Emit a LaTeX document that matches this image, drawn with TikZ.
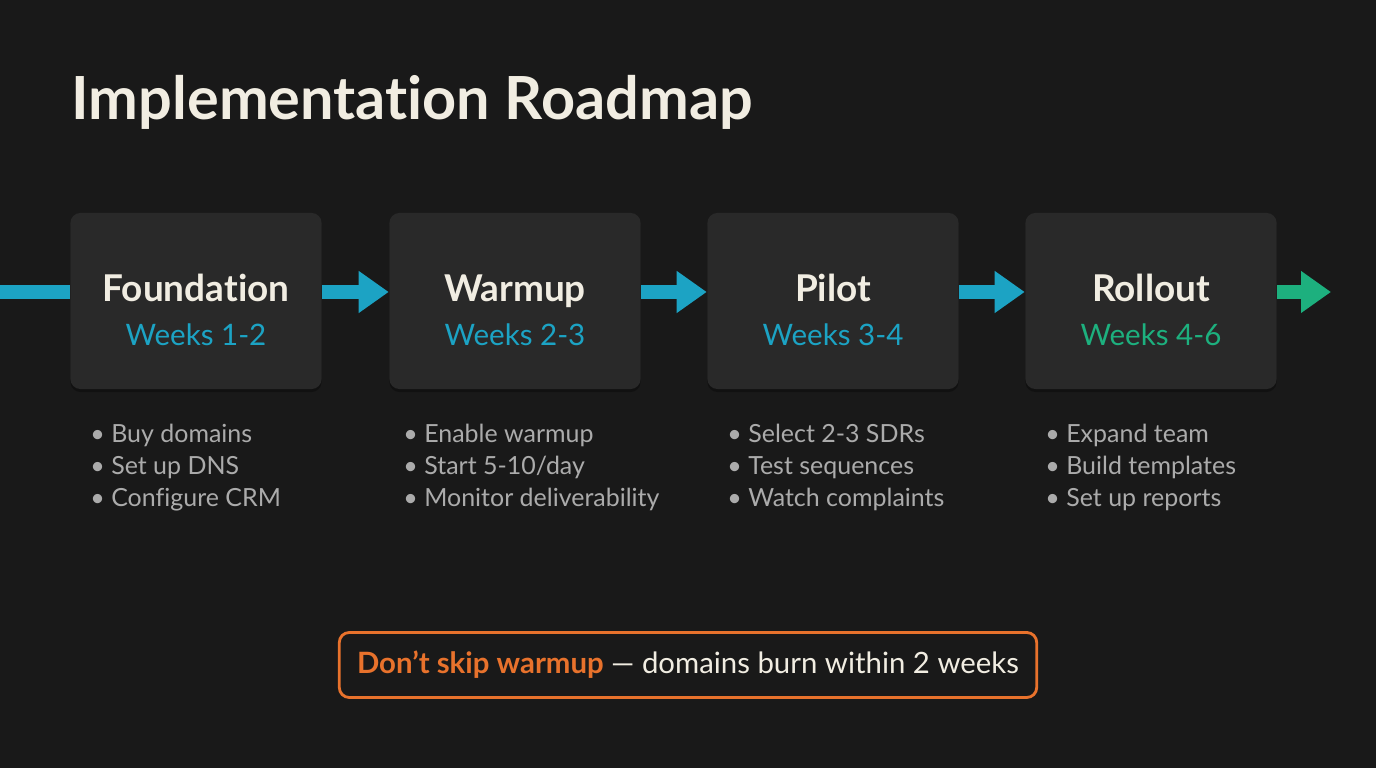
\documentclass[tikz,border=0pt]{standalone}
\usepackage{fontspec}
\setmainfont[Ligatures=NoCommon]{Lato}
\usepackage{tikz}
\usepackage{xcolor}
\usetikzlibrary{arrows.meta,positioning,shadows}

\definecolor{bgdark}{HTML}{191919}
\definecolor{boxgrey}{HTML}{292929}
\definecolor{cream}{HTML}{F1EDE2}
\definecolor{teal}{HTML}{1CA3C4}
\definecolor{mint}{HTML}{1DB07E}
\definecolor{itemgrey}{HTML}{ABABAB}
\definecolor{warnorange}{HTML}{E8722C}

\tikzset{
    stage-box/.style = {fill=boxgrey, rectangle, rounded corners=0.1cm, minimum width=2.51cm, minimum height=1.76cm,
        drop shadow={shadow xshift=0cm, shadow yshift=-0.03cm, opacity=0.3, fill=black}},
    stage-title/.style = {anchor=base, inner sep=0pt, text=cream, font=\fontsize{10.5}{12}\selectfont\bfseries},
    stage-weeks/.style = {anchor=base, inner sep=0pt, font=\fontsize{8.4}{10}\selectfont},
    stage-items/.style = {anchor=base west, inner sep=0pt, align=left, text=itemgrey, font=\fontsize{7.1}{9.1}\selectfont},
    flow-arrow/.style = {draw=teal, line width=0.14cm, -{Triangle[length=0.3cm,width=0.4cm]}},
}

\begin{document}
\begin{tikzpicture}[x=0.01cm, y=-0.01cm]
\fill[bgdark] (0,0) rectangle (1376,768);
\useasboundingbox (0,0) rectangle (1376,768);

\node[anchor=base west, inner sep=0pt, text=cream, font=\fontsize{16.9}{19}\selectfont\bfseries] (title) at (71,120) {Implementation Roadmap};

% stage boxes
\node[stage-box] (found) at (196,301) {};
\node[stage-box] (warm) at (515,301) {};
\node[stage-box] (pilot) at (833,301) {};
\node[stage-box] (roll) at (1151,301) {};

\node[stage-title] (foundT) at ([yshift=-0.01cm]found.center) {Foundation};
\node[stage-weeks, text=teal] (foundW) at ([yshift=-0.44cm]found.center) {Weeks 1-2};
\node[stage-title] (warmT) at ([yshift=-0.01cm]warm.center) {Warmup};
\node[stage-weeks, text=teal] (warmW) at ([yshift=-0.44cm]warm.center) {Weeks 2-3};
\node[stage-title] (pilotT) at ([yshift=-0.01cm]pilot.center) {Pilot};
\node[stage-weeks, text=teal] (pilotW) at ([yshift=-0.44cm]pilot.center) {Weeks 3-4};
\node[stage-title] (rollT) at ([yshift=-0.01cm]roll.center) {Rollout};
\node[stage-weeks, text=mint] (rollW) at ([yshift=-0.44cm]roll.center) {Weeks 4-6};

% arrows
\coordinate (start) at (0,292);
\coordinate (finish) at (1331,292);
\draw[teal, line width=0.14cm] (start) -- (start -| found.west);
\draw[flow-arrow] (found.east |- start) -- (warm.west |- start);
\draw[flow-arrow] (warm.east |- start) -- (pilot.west |- start);
\draw[flow-arrow] (pilot.east |- start) -- (roll.west |- start);
\draw[flow-arrow, draw=mint] (roll.east |- start) -- (finish);

% task lists (base is the last line)
\node[stage-items] (foundL) at ([xshift=0.2cm, yshift=-1.17cm]found.south west) {\textbullet\ Buy domains\\ \textbullet\ Set up DNS\\ \textbullet\ Configure CRM};
\node[stage-items] (warmL) at ([xshift=0.14cm, yshift=-1.17cm]warm.south west) {\textbullet\ Enable warmup\\ \textbullet\ Start 5-10/day\\ \textbullet\ Monitor deliverability};
\node[stage-items] (pilotL) at ([xshift=0.2cm, yshift=-1.17cm]pilot.south west) {\textbullet\ Select 2-3 SDRs\\ \textbullet\ Test sequences\\ \textbullet\ Watch complaints};
\node[stage-items] (rollL) at ([xshift=0.2cm, yshift=-1.17cm]roll.south west) {\textbullet\ Expand team\\ \textbullet\ Build templates\\ \textbullet\ Set up reports};

% warning
\node[draw=warnorange, line width=0.8pt, fill=bgdark, rounded corners=0.1cm, minimum width=6.97cm, minimum height=0.65cm,
    text=cream, font=\fontsize{8.35}{10}\selectfont] (warn) at (688,665)
    {{\bfseries\color{warnorange}Don’t skip warmup} — domains burn within 2 weeks};
\end{tikzpicture}
\end{document}
